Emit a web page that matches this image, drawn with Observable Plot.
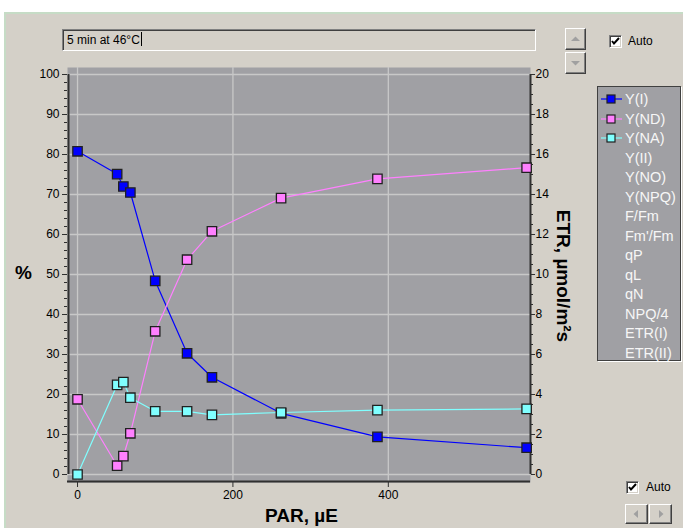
<!DOCTYPE html>
<html>
<head>
<meta charset="utf-8">
<script src="https://cdn.jsdelivr.net/npm/d3@7"></script>
<script src="https://cdn.jsdelivr.net/npm/@observablehq/plot@0.6"></script>
<style>
  html, body { margin:0; padding:0; }
  body { width:683px; height:528px; background:#d4d0c8; position:relative; overflow:hidden;
         font-family:"Liberation Sans", Arial, sans-serif; }
  .abs { position:absolute; }
  #topwhite { left:0; top:0; width:683px; height:12px; background:#fff; }
  #topline { left:4px; top:12px; width:679px; height:2px; background:#c6dcc6; }
  #leftline { left:4px; top:12px; width:2px; height:516px; background:#c6dcc6; }
  #leftwhite { left:0; top:0; width:4px; height:528px; background:#fff; }
  #plotwrap { left:0; top:0; }
  #titlebox { left:62px; top:29px; width:468px; height:20px; background:#d4d0c8;
    border-top:1px solid #808080; border-left:1px solid #808080; border-bottom:1px solid #fff; border-right:1px solid #fff;
    box-shadow: inset 1px 1px 0 #404040, inset -1px -1px 0 #d4d0c8;
    font-size:12px; line-height:20px; padding-left:4px; color:#000; }
  .caret { display:inline-block; width:1px; height:14px; background:#000; vertical-align:-2px; margin-left:1px; }
  .btn { background:#d4d0c8; box-sizing:border-box;
    border-top:1px solid #fff; border-left:1px solid #fff; border-right:1px solid #404040; border-bottom:1px solid #404040;
    box-shadow: inset -1px -1px 0 #808080; }
  .chk { width:13px; height:13px; box-sizing:border-box; background:#fff;
    border-top:1px solid #808080; border-left:1px solid #808080; border-right:1px solid #fff; border-bottom:1px solid #fff;
    box-shadow: inset 1px 1px 0 #404040, inset -1px -1px 0 #d4d0c8; }
  .lbl { font-size:12px; color:#000; }
  #legend { left:597px; top:86px; width:84px; height:275px; box-sizing:border-box; background:#a0a0a4;
    border:1px solid #404040; box-shadow: 1px 1px 0 #fff; }
  .li { position:absolute; left:27px; font-size:14.5px; color:#f6f6f6; line-height:16px; white-space:nowrap; }
  .axtitle { font-weight:bold; color:#000; white-space:nowrap; }
</style>
</head>
<body>
<div id="leftwhite" class="abs"></div>
<div id="topwhite" class="abs"></div>
<div id="topline" class="abs"></div>
<div id="leftline" class="abs"></div>
<div id="plotwrap" class="abs"></div>

<div id="titlebox" class="abs">5 min at 46°C<span class="caret"></span></div>

<div class="abs btn" style="left:565px;top:28px;width:21px;height:22px;">
  <svg width="19" height="20" style="position:absolute;left:0;top:0"><path d="M5 12 L9.5 7.5 L14 12 Z" fill="#a0a0a0"/></svg>
</div>
<div class="abs btn" style="left:565px;top:52px;width:21px;height:22px;">
  <svg width="19" height="20" style="position:absolute;left:0;top:0"><path d="M5 8 L9.5 12.5 L14 8 Z" fill="#a0a0a0"/></svg>
</div>

<div class="abs chk" style="left:609px;top:35px;">
  <svg width="11" height="11" style="position:absolute;left:0;top:0"><path d="M2 5 L4 7.5 L9 2" stroke="#000" stroke-width="2" fill="none"/></svg>
</div>
<div class="abs lbl" style="left:628px;top:34px;">Auto</div>

<div id="legend" class="abs"></div>

<div class="abs chk" style="left:626px;top:481px;">
  <svg width="11" height="11" style="position:absolute;left:0;top:0"><path d="M2 5 L4 7.5 L9 2" stroke="#000" stroke-width="2" fill="none"/></svg>
</div>
<div class="abs lbl" style="left:646px;top:480px;">Auto</div>

<div class="abs btn" style="left:625px;top:504px;width:23px;height:20px;">
  <svg width="21" height="18" style="position:absolute;left:0;top:0"><path d="M12 5 L7.5 9 L12 13 Z" fill="#a0a0a0"/></svg>
</div>
<div class="abs btn" style="left:649px;top:504px;width:23px;height:20px;">
  <svg width="21" height="18" style="position:absolute;left:0;top:0"><path d="M9 5 L13.5 9 L9 13 Z" fill="#a0a0a0"/></svg>
</div>

<div class="abs axtitle" style="left:15px;top:262px;font-size:19px;">%</div>
<div class="abs axtitle" style="left:265px;top:505px;font-size:19px;">PAR, µE</div>
<div class="abs axtitle" id="etr" style="font-size:19px;left:563px;top:276px;transform:translate(-50%,-50%) rotate(90deg);">ETR, µmol/m²s</div>

<script>
// ---- data ----
const par  = [0, 51, 59, 68, 100, 141, 173, 262, 386, 578];
const yI   = [80.8, 75.1, 72.0, 70.5, 48.4, 30.3, 24.3, 15.3, 9.4, 6.7];
const yND  = [18.8, 2.2, 4.6, 10.3, 35.8, 53.7, 60.8, 69.1, 73.9, 76.7];
const yNA  = [0, 22.4, 23.1, 19.2, 15.8, 15.8, 14.9, 15.5, 16.1, 16.4];
const seriesNames = ["Y(I)", "Y(ND)", "Y(NA)"];
const legendItems = ["Y(I)", "Y(ND)", "Y(NA)", "Y(II)", "Y(NO)", "Y(NPQ)", "F/Fm", "Fm'/Fm", "qP", "qL", "qN", "NPQ/4", "ETR(I)", "ETR(II)"];
const leftTicks  = [0, 10, 20, 30, 40, 50, 60, 70, 80, 90, 100];
const rightTicks = [0, 2, 4, 6, 8, 10, 12, 14, 16, 18, 20];
const xTicks = [0, 200, 400];

const colors = ["#0000ff", "#ff80ff", "#80ffff"];
const seriesValues = [yI, yND, yNA];
const data = seriesNames.flatMap((s, k) => par.map((p, i) => ({ s, par: p, v: seriesValues[k][i] })));

const minorLeft = d3.range(0, 101, 2).filter(d => d % 10 !== 0);
const minorRight = d3.range(0, 20.01, 0.5).filter(d => d % 2 !== 0).map(d => d * 5);

const chart = Plot.plot({
  width: 683, height: 528,
  marginLeft: 67, marginRight: 153, marginTop: 67, marginBottom: 46,
  style: { background: "transparent", fontFamily: "Liberation Sans, Arial, sans-serif", fontSize: "12px", color: "#000" },
  x: { domain: [-12.9, 583], label: null },
  y: { domain: [-2, 101.75], label: null },
  color: { domain: seriesNames, range: colors },
  marks: [
    Plot.frame({ fill: "#a0a0a4", stroke: null }),
    Plot.gridY(leftTicks, { stroke: "#c8c8c8", strokeOpacity: 1, strokeWidth: 1.3 }),
    Plot.gridX(xTicks, { stroke: "#c8c8c8", strokeOpacity: 1, strokeWidth: 1.3 }),
    Plot.ruleX([-12.9], { y1: 0, y2: 100, stroke: "#303030", strokeWidth: 2, dx: 1 }),
    Plot.ruleX([583], { y1: 0, y2: 100, stroke: "#303030", strokeWidth: 2, dx: 0 }),
    Plot.ruleY([-2], { stroke: "#303030", strokeWidth: 2, dy: -1 }),
    Plot.axisY(leftTicks, { anchor: "left", tickSize: 5, tickPadding: 3, label: null, fontSize: 12, stroke: "#303030" }),
    Plot.axisY(minorLeft, { anchor: "left", tickSize: 3, tickFormat: () => "", label: null, stroke: "#303030" }),
    Plot.axisY(rightTicks.map(d => d * 5), { anchor: "right", tickSize: 4, tickPadding: 1, label: null, fontSize: 12, tickFormat: d => String(Math.round(d / 5)), stroke: "#303030" }),
    Plot.axisY(minorRight, { anchor: "right", tickSize: 2, tickFormat: () => "", label: null, stroke: "#303030" }),
    Plot.axisX(xTicks, { anchor: "bottom", tickSize: 5, tickPadding: 3, label: null, fontSize: 12, stroke: "#303030" }),
    Plot.line(data, { x: "par", y: "v", z: "s", stroke: "s", strokeWidth: 1.2 }),
    Plot.dot(data, { x: "par", y: "v", fill: "s", symbol: "square", r: 5.3, stroke: "#202020", strokeWidth: 1.3 })
  ]
});
document.getElementById("plotwrap").appendChild(chart);

// legend
const leg = document.getElementById("legend");
legendItems.forEach((name, i) => {
  const y = 4 + i * 19.5;
  const t = document.createElement("div");
  t.className = "li";
  t.style.top = y + "px";
  t.textContent = name;
  leg.appendChild(t);
  const k = seriesNames.indexOf(name);
  if (k >= 0) {
    const ns = "http://www.w3.org/2000/svg";
    const svg = document.createElementNS(ns, "svg");
    svg.setAttribute("width", 24); svg.setAttribute("height", 12);
    svg.style.position = "absolute"; svg.style.left = "2px"; svg.style.top = (y + 2) + "px";
    const ln = document.createElementNS(ns, "line");
    ln.setAttribute("x1", 1); ln.setAttribute("x2", 22); ln.setAttribute("y1", 6); ln.setAttribute("y2", 6);
    ln.setAttribute("stroke", colors[k]); ln.setAttribute("stroke-width", 1.2);
    svg.appendChild(ln);
    const r = document.createElementNS(ns, "rect");
    r.setAttribute("x", 7); r.setAttribute("y", 2); r.setAttribute("width", 8); r.setAttribute("height", 8);
    r.setAttribute("fill", colors[k]); r.setAttribute("stroke", "#202020"); r.setAttribute("stroke-width", 1.2);
    svg.appendChild(r);
    leg.appendChild(svg);
  }
});
</script>
</body>
</html>
